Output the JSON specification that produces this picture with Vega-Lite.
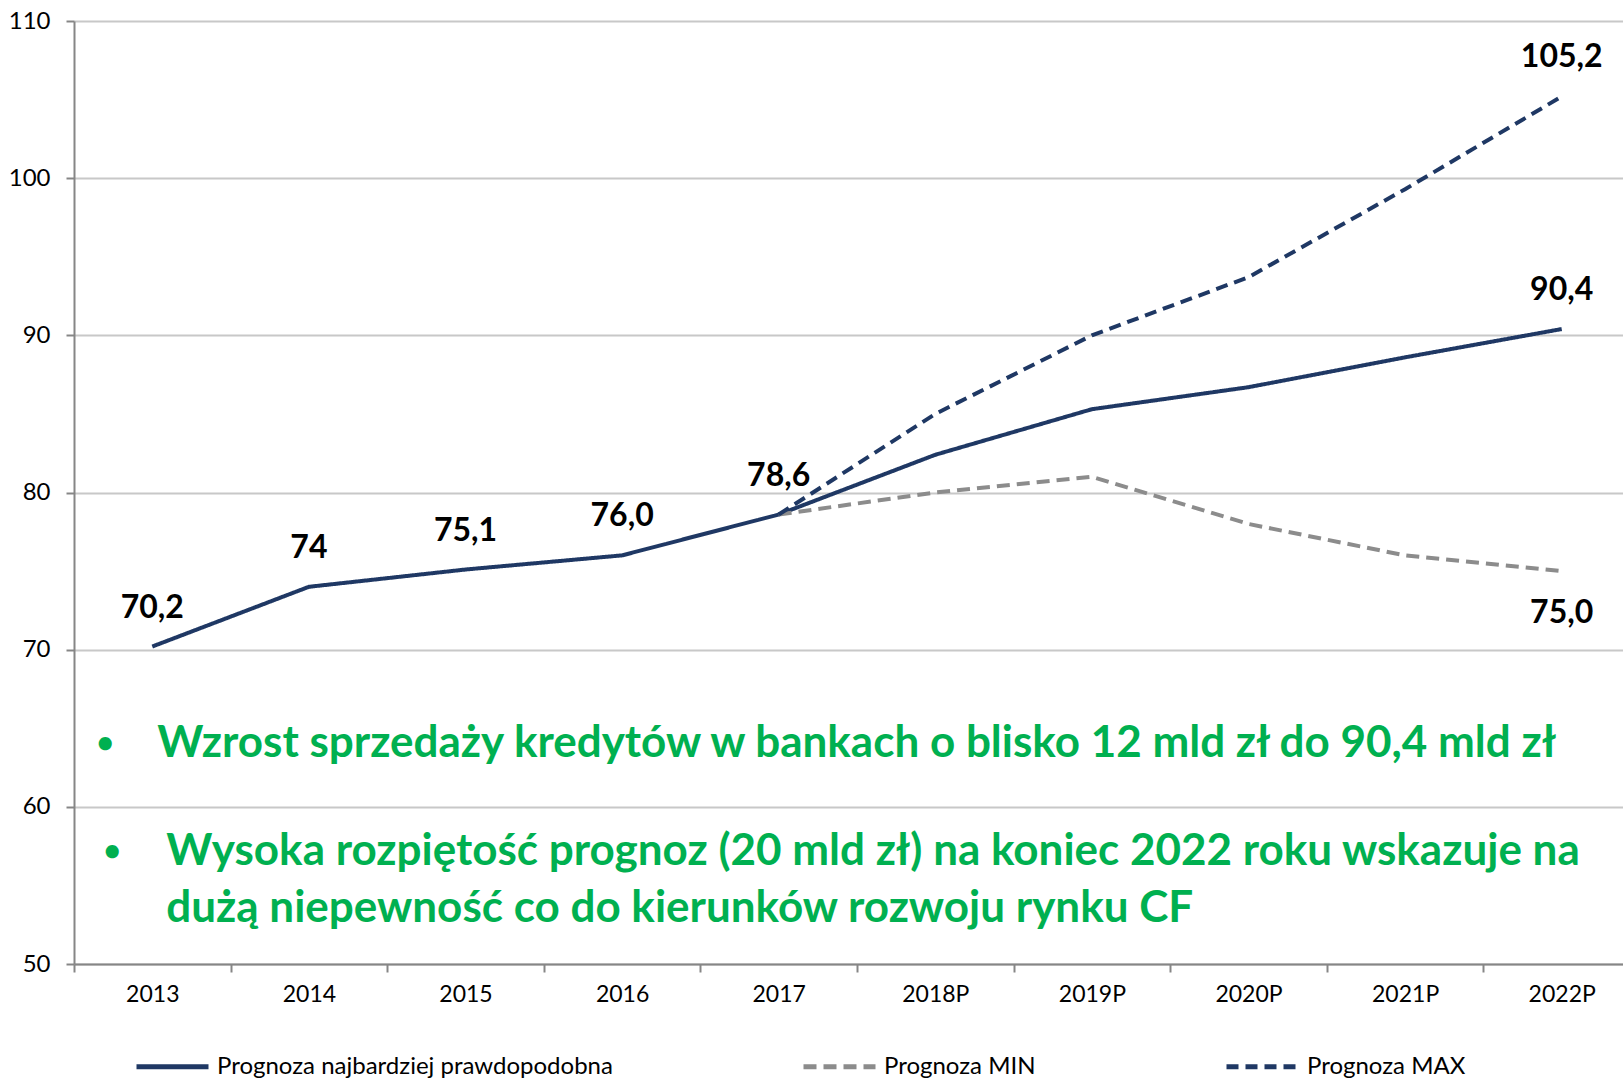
{
  "$schema": "https://vega.github.io/schema/vega-lite/v6.json",
  "width": 1549,
  "height": 943,
  "autosize": {"type": "none"},
  "padding": {"left": 74, "top": 21, "right": 0, "bottom": 117},
  "background": "white",
  "config": {
    "view": {"stroke": null},
    "font": "Lato",
    "text": {"font": "Lato"}
  },
  "datasets": {
    "series": [
      {"rok": "2013", "seria": "Prognoza najbardziej prawdopodobna", "wartosc": 70.2},
      {"rok": "2014", "seria": "Prognoza najbardziej prawdopodobna", "wartosc": 74.0},
      {"rok": "2015", "seria": "Prognoza najbardziej prawdopodobna", "wartosc": 75.1},
      {"rok": "2016", "seria": "Prognoza najbardziej prawdopodobna", "wartosc": 76.0},
      {"rok": "2017", "seria": "Prognoza najbardziej prawdopodobna", "wartosc": 78.6},
      {"rok": "2018P", "seria": "Prognoza najbardziej prawdopodobna", "wartosc": 82.4},
      {"rok": "2019P", "seria": "Prognoza najbardziej prawdopodobna", "wartosc": 85.3},
      {"rok": "2020P", "seria": "Prognoza najbardziej prawdopodobna", "wartosc": 86.7},
      {"rok": "2021P", "seria": "Prognoza najbardziej prawdopodobna", "wartosc": 88.6},
      {"rok": "2022P", "seria": "Prognoza najbardziej prawdopodobna", "wartosc": 90.4},
      {"rok": "2017", "seria": "Prognoza MIN", "wartosc": 78.6},
      {"rok": "2018P", "seria": "Prognoza MIN", "wartosc": 80.0},
      {"rok": "2019P", "seria": "Prognoza MIN", "wartosc": 81.0},
      {"rok": "2020P", "seria": "Prognoza MIN", "wartosc": 78.0},
      {"rok": "2021P", "seria": "Prognoza MIN", "wartosc": 76.0},
      {"rok": "2022P", "seria": "Prognoza MIN", "wartosc": 75.0},
      {"rok": "2017", "seria": "Prognoza MAX", "wartosc": 78.6},
      {"rok": "2018P", "seria": "Prognoza MAX", "wartosc": 85.0},
      {"rok": "2019P", "seria": "Prognoza MAX", "wartosc": 90.0},
      {"rok": "2020P", "seria": "Prognoza MAX", "wartosc": 93.7},
      {"rok": "2021P", "seria": "Prognoza MAX", "wartosc": 99.3},
      {"rok": "2022P", "seria": "Prognoza MAX", "wartosc": 105.2}
    ],
    "labels": [
      {"rok": "2013", "wartosc": 70.2, "etykieta": "70,2", "pozycja": "nad"},
      {"rok": "2014", "wartosc": 74.0, "etykieta": "74", "pozycja": "nad"},
      {"rok": "2015", "wartosc": 75.1, "etykieta": "75,1", "pozycja": "nad"},
      {"rok": "2016", "wartosc": 76.0, "etykieta": "76,0", "pozycja": "nad"},
      {"rok": "2017", "wartosc": 78.6, "etykieta": "78,6", "pozycja": "nad"},
      {"rok": "2022P", "wartosc": 90.4, "etykieta": "90,4", "pozycja": "nad"},
      {"rok": "2022P", "wartosc": 105.2, "etykieta": "105,2", "pozycja": "nad"},
      {"rok": "2022P", "wartosc": 75.0, "etykieta": "75,0", "pozycja": "pod"}
    ]
  },
  "encoding": {
    "x": {
      "field": "rok",
      "type": "ordinal",
      "scale": {
        "type": "band",
        "domain": ["2013", "2014", "2015", "2016", "2017", "2018P", "2019P", "2020P", "2021P", "2022P"],
        "range": [0, 1566],
        "paddingInner": 0,
        "paddingOuter": 0
      },
      "axis": {
        "title": null,
        "tickBand": "extent",
        "labelAngle": 0,
        "labelFontSize": 23,
        "labelFont": "Lato",
        "labelColor": "#000000",
        "labelPadding": 11,
        "labelBaseline": "top",
        "domainColor": "#868686",
        "domainWidth": 2,
        "tickColor": "#868686",
        "tickWidth": 2,
        "tickSize": 8,
        "grid": false
      }
    },
    "y": {
      "field": "wartosc",
      "type": "quantitative",
      "scale": {"domain": [50, 110], "nice": false, "zero": false},
      "axis": {
        "title": null,
        "values": [50, 60, 70, 80, 90, 100, 110],
        "labelFontSize": 24,
        "labelFont": "Lato",
        "labelColor": "#000000",
        "labelPadding": 16,
        "domainColor": "#868686",
        "domainWidth": 2,
        "tickColor": "#868686",
        "tickWidth": 2,
        "tickSize": 8,
        "grid": true,
        "gridColor": "#C8C8C8",
        "gridWidth": 2
      }
    }
  },
  "layer": [
    {
      "data": {"name": "series"},
      "mark": {"type": "line", "strokeWidth": 4},
      "encoding": {
        "color": {
          "field": "seria",
          "type": "nominal",
          "scale": {
            "domain": ["Prognoza najbardziej prawdopodobna", "Prognoza MIN", "Prognoza MAX"],
            "range": ["#1F3864", "#8C8C8C", "#1F3864"]
          },
          "legend": {
            "title": null,
            "orient": "none",
            "legendX": 60,
            "legendY": 1007,
            "direction": "horizontal",
            "columns": 3,
            "columnPadding": 180,
            "symbolType": "stroke",
            "symbolSize": 5184,
            "symbolStrokeWidth": 5,
            "labelFontSize": 24,
            "labelFont": "Lato",
            "labelColor": "#000000",
            "labelOffset": 6,
            "labelLimit": 600
          }
        },
        "strokeDash": {
          "field": "seria",
          "type": "nominal",
          "scale": {
            "domain": ["Prognoza najbardziej prawdopodobna", "Prognoza MIN", "Prognoza MAX"],
            "range": [[1, 0], [13, 7], [12, 7]]
          },
          "legend": null
        },
        "order": {"field": "rok", "type": "ordinal"}
      }
    },
    {
      "data": {"name": "labels"},
      "transform": [{"filter": "datum.pozycja === 'nad'"}],
      "mark": {"type": "text", "font": "Lato", "fontWeight": "bold", "fontSize": 32, "color": "#000000", "baseline": "middle", "align": "center", "dy": -39},
      "encoding": {"text": {"field": "etykieta"}}
    },
    {
      "data": {"name": "labels"},
      "transform": [{"filter": "datum.pozycja === 'pod'"}],
      "mark": {"type": "text", "font": "Lato", "fontWeight": "bold", "fontSize": 32, "color": "#000000", "baseline": "middle", "align": "center", "dy": 42},
      "encoding": {"text": {"field": "etykieta"}}
    },
    {
      "data": {"values": [{"rok": "2013", "wartosc": 64.0, "tekst": "Wzrost sprzedaży kredytów w bankach o blisko 12 mld zł do 90,4 mld zł"}]},
      "mark": {"type": "text", "font": "Lato", "fontWeight": "bold", "fontSize": 44, "color": "#00B050", "baseline": "middle", "align": "left", "dx": 5},
      "encoding": {"text": {"field": "tekst"}}
    },
    {
      "data": {"values": [
        {"rok": "2013", "wartosc": 57.1, "tekst": "Wysoka rozpiętość prognoz (20 mld zł) na koniec 2022 roku wskazuje na"},
        {"rok": "2013", "wartosc": 53.5, "tekst": "dużą niepewność co do kierunków rozwoju rynku CF"}
      ]},
      "mark": {"type": "text", "font": "Lato", "fontWeight": "bold", "fontSize": 44, "color": "#00B050", "baseline": "middle", "align": "left", "dx": 14},
      "encoding": {"text": {"field": "tekst"}}
    },
    {
      "data": {"values": [{"rok": "2013", "wartosc": 64.0, "tekst": "•"}]},
      "mark": {"type": "text", "font": "Lato", "fontWeight": "bold", "fontSize": 30, "color": "#00B050", "baseline": "middle", "align": "center", "dx": -47},
      "encoding": {"text": {"field": "tekst"}}
    },
    {
      "data": {"values": [{"rok": "2013", "wartosc": 57.1, "tekst": "•"}]},
      "mark": {"type": "text", "font": "Lato", "fontWeight": "bold", "fontSize": 30, "color": "#00B050", "baseline": "middle", "align": "center", "dx": -40},
      "encoding": {"text": {"field": "tekst"}}
    }
  ]
}
